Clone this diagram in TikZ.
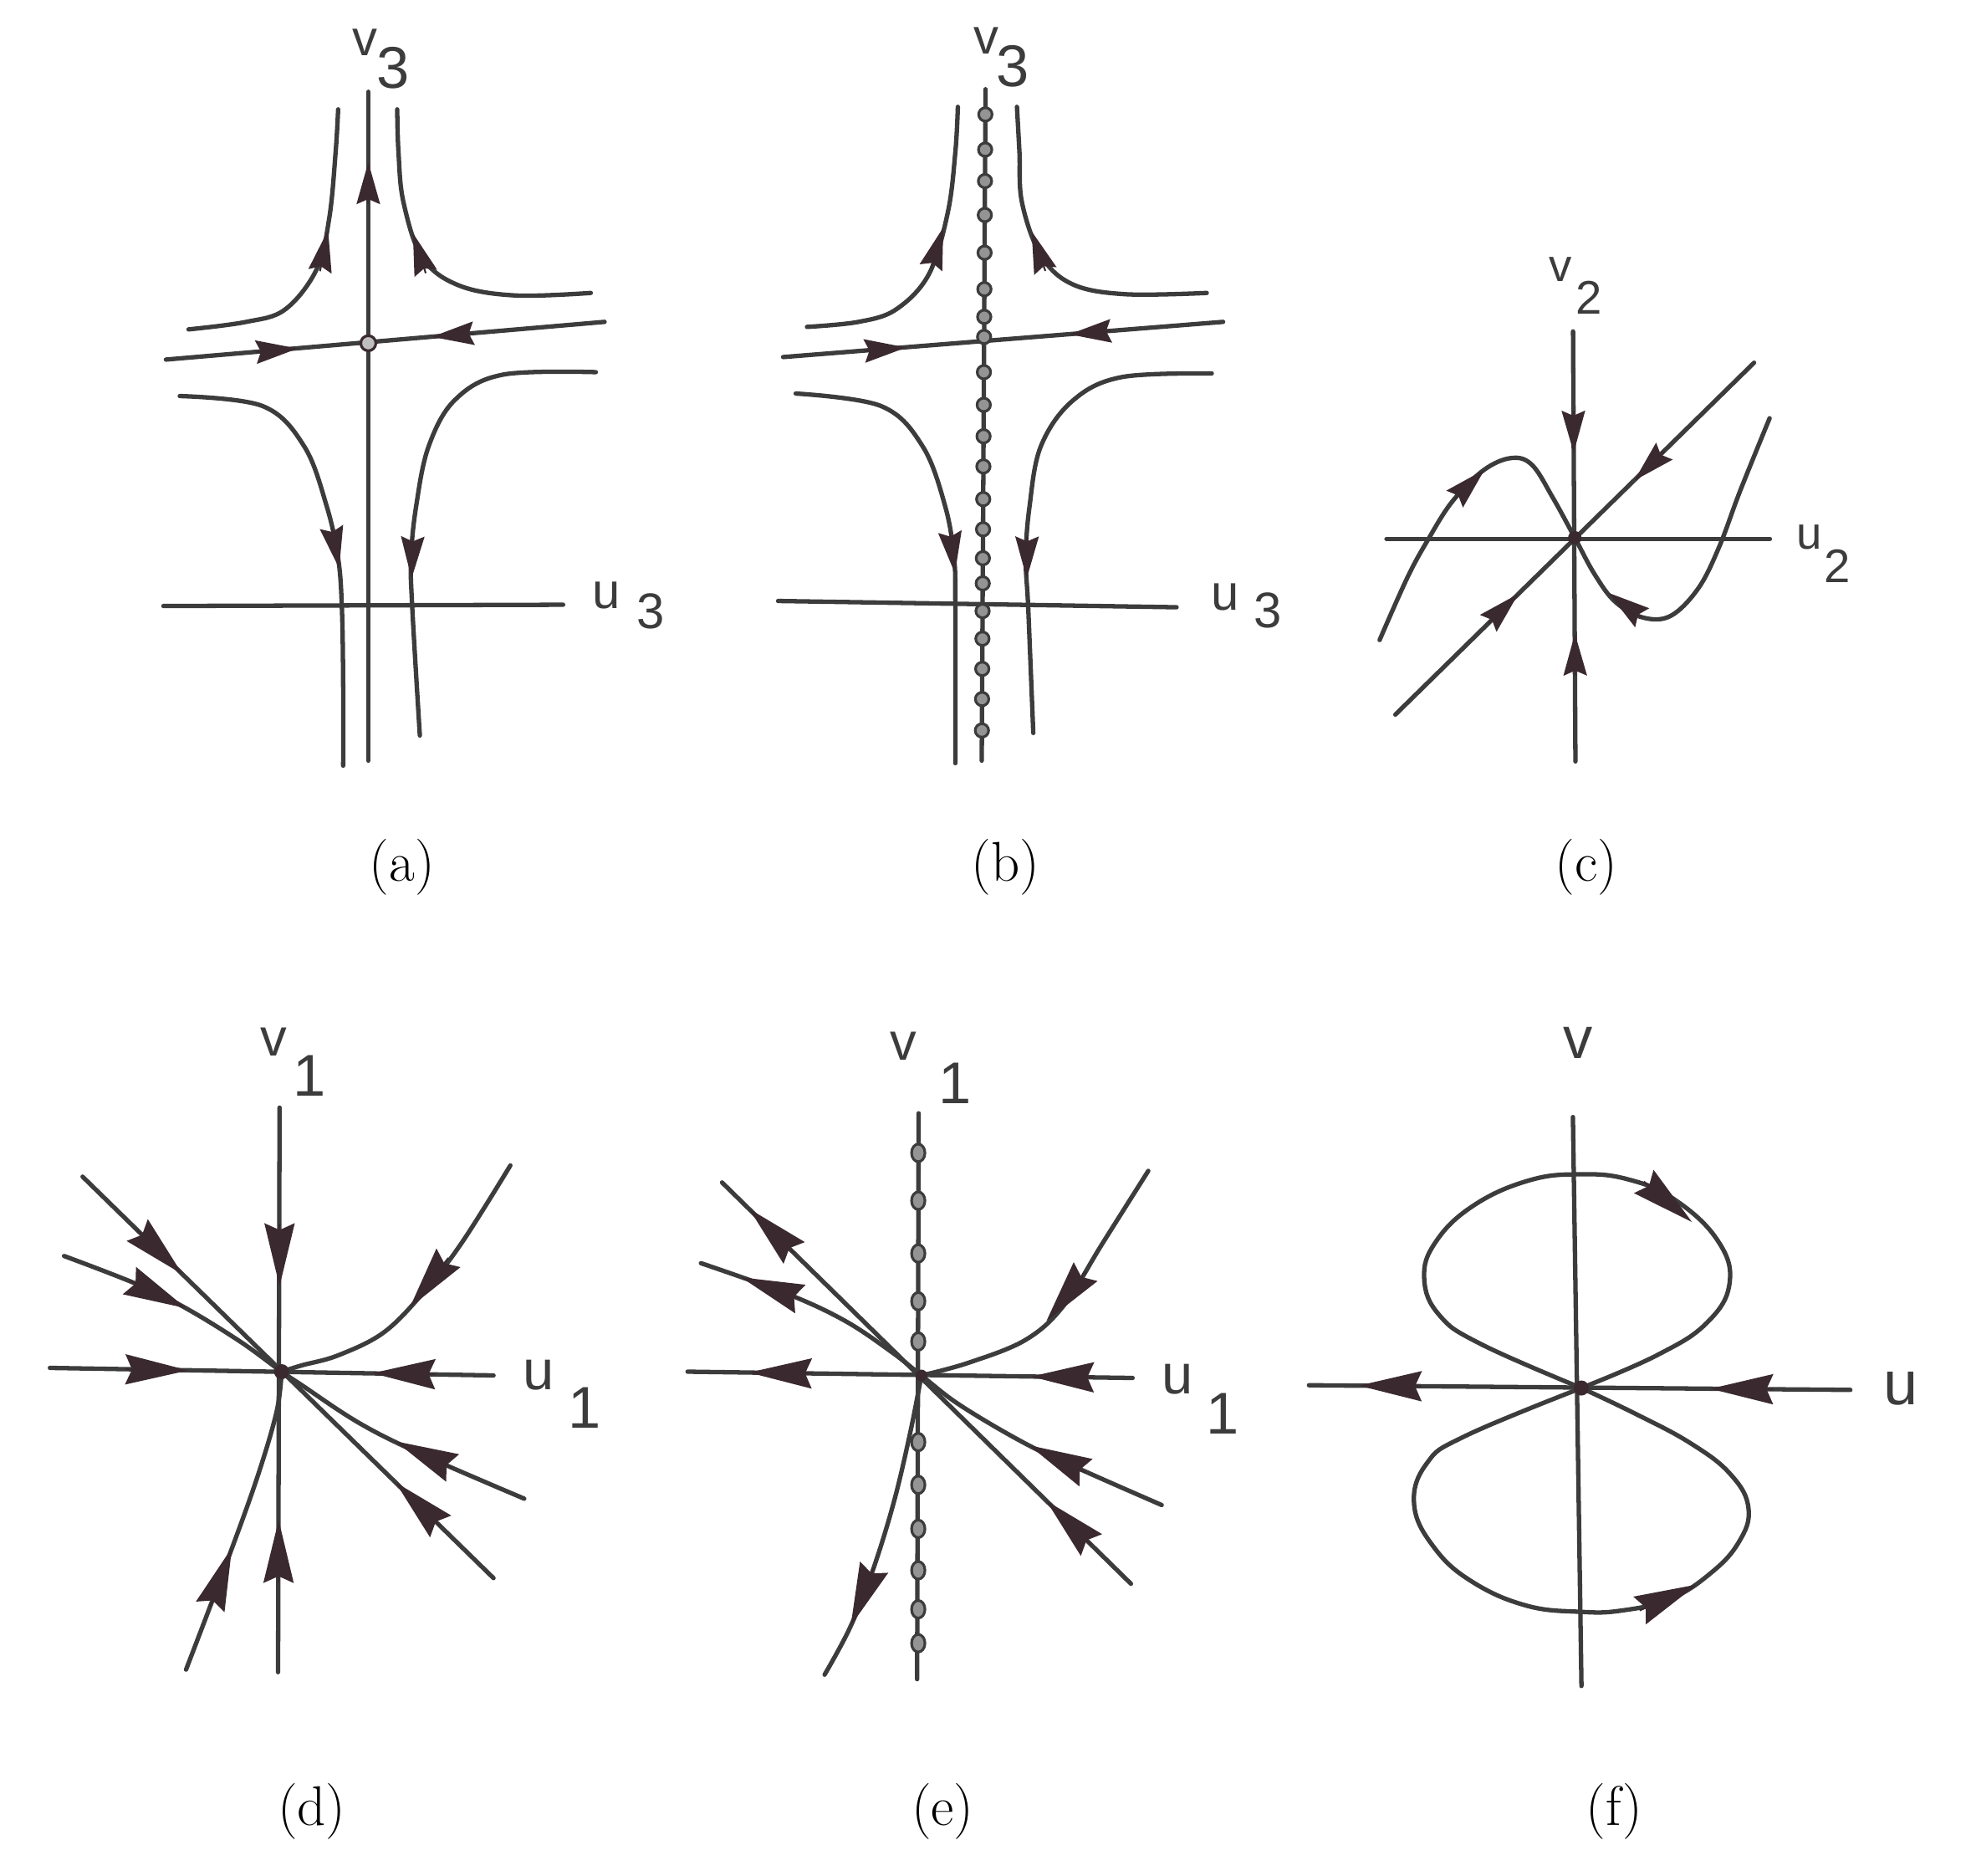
\documentclass[tikz,border=0pt]{standalone}
\usepackage{fontspec}
\newfontfamily\labfont{Liberation Sans}
\usetikzlibrary{arrows.meta,calc}
\definecolor{ink}{HTML}{3C3C3C}
\definecolor{tipink}{HTML}{3A2A2F}
% arrowhead sitting on a trajectory: {point behind}{tip}
\newcommand{\smalltip}[2]{\draw[flow] ($(#2)!0.5cm!(#1)$) -- (#2);}
\newcommand{\bigtip}[2]{\draw[bigflow] ($(#2)!0.75cm!(#1)$) -- (#2);}

\begin{document}
\begin{tikzpicture}[x=0.015cm, y=-0.015cm,
  axis/.style={draw=ink, line width=1.5pt, line cap=round},
  orbit/.style={draw=ink, line width=1.5pt, line cap=round},
  flow/.style={draw=tipink, line width=0.6pt,
    -{Stealth[length=0.5cm, width=0.28cm, inset=0.06cm]}},
  bigflow/.style={draw=tipink, line width=0.6pt,
    -{Stealth[length=0.75cm, width=0.36cm, inset=0.08cm]}},
  lab/.style={inner sep=0pt, anchor=base west, text=ink},
  sz/.style={font=\labfont\fontsize{#1}{#1}\selectfont},
  captext/.style={inner sep=0pt, font=\fontsize{19}{22}\selectfont},
  chain/.style={draw=ink, fill=ink!55, line width=0.9pt}
]
\useasboundingbox (0,0) rectangle (1568,1492);

% (a) saddle
\draw[axis] (130,482) -- (448,481);
\draw[axis] (293,73) -- (293,605);
\draw[orbit] (132,286) -- (481,256);
\draw[orbit] plot[smooth, tension=0.6] coordinates {(150,262) (196,256) (227,246) (252,214) (262,173) (267,121) (269,87)};
\draw[orbit] plot[smooth, tension=0.6] coordinates {(316,87) (317,121) (321,161) (336,205) (365,227) (410,235) (470,233)};
\draw[orbit] plot[smooth, tension=0.6] coordinates {(143,315) (209,323) (242,355) (260,403) (269,444) (272,484) (273,545) (273,609)};
\draw[orbit] plot[smooth, tension=0.6] coordinates {(474,296) (400,298) (362,318) (341,355) (331,403) (327,444) (328,484) (334,585)};
\smalltip{293,160}{293,129}
\smalltip{208.8,279.6}{236.8,277.2}
\smalltip{371.6,265.5}{343.7,267.9}
\smalltip{255.5,211}{261,183}
\smalltip{337,212}{328.5,185.5}
\smalltip{264.6,424}{269.8,452}
\smalltip{328.2,432}{327.4,460}
\draw[fill=gray!50, draw=tipink, line width=0.9pt] (293,273) circle[radius=0.09cm];
\node[lab, sz=17] (a-v) at (280,44) {v};
\node[lab, sz=20] (a-vn) at (299.5,70) {3};
\node[lab, sz=17] (a-u) at (471,484) {u};
\node[lab, sz=17] (a-un) at (506,500) {3};
\node[captext] (a-cap) at (320,690) {(a)};

% (b) line of equilibria
\draw[axis] (619,478) -- (936,483);
\draw[axis] (784,71) -- (781,605);
\draw[orbit] (623,284) -- (973,256);
\draw[orbit] plot[smooth, tension=0.6] coordinates {(642,260) (683,256) (713,246) (739,218) (754,169) (760,121) (762,85)};
\draw[orbit] plot[smooth, tension=0.6] coordinates {(809,85) (811,121) (813,161) (828,203) (853,226) (895,234) (960,233)};
\draw[orbit] plot[smooth, tension=0.6] coordinates {(633,313) (701,323) (734,355) (752,403) (759,444) (760,484) (760,607)};
\draw[orbit] plot[smooth, tension=0.6] coordinates {(964,297) (892,300) (853,319) (828,355) (819,403) (816,444) (818,484) (822,583)};
\foreach \yy in {91,119,144,171,201,230,252,268,296,322,347,371,397,421,444,464,486,508,532,556,581}
  \draw[chain] ({784-3*(\yy-71)/534},\yy) circle[radius=0.08cm];
\smalltip{692.9,278.7}{720.9,276.4}
\smalltip{878.7,263.6}{850.7,265.9}
\smalltip{742.4,207}{750.4,181}
\smalltip{829,208}{820.7,184}
\smalltip{756.3,428}{759.7,456}
\smalltip{817,432}{816.8,460}
\node[lab, sz=17] (b-v) at (774,43) {v};
\node[lab, sz=20] (b-vn) at (792.5,69) {3};
\node[lab, sz=17] (b-u) at (963,485) {u};
\node[lab, sz=17] (b-un) at (997,499) {3};
\node[captext] (b-cap) at (800,690) {(b)};

% (c)
\draw[axis] (1103,428.6) -- (1408,428.6);
\draw[axis] (1251.4,263.6) -- (1253.3,605.6);
\draw[orbit] (1110,568.4) -- (1395.4,288.5);
\draw[orbit] plot[smooth, tension=0.6] coordinates {(1097.5,509.1) (1119.6,459.4) (1136.1,429.1) (1155.4,398.8) (1180.2,374) (1202.3,364.3) (1218.8,369.8) (1235.4,396) (1252.8,427.7) (1268.5,456.7) (1285.1,478.8) (1307.1,491.2) (1329.2,489.8) (1351.2,467.7) (1367.8,434.6) (1384.3,390.5) (1407.8,332.6)};
\smalltip{1251.7,331}{1251.9,360}
\smalltip{1253.1,533}{1252.9,504}
\smalltip{1320.9,361.9}{1300.2,382.2}
\smalltip{1187.1,492.7}{1207.8,472.4}
\smalltip{1160,394.2}{1181,373.5}
\smalltip{1303.6,489.3}{1279.5,471.5}
\fill[tipink] (1252.8,427.7) circle[radius=0.08cm];
\node[lab, sz=15.5] (c-v) at (1232,224) {v};
\node[lab, sz=16] (c-vn) at (1253.5,250) {2};
\node[lab, sz=15.5] (c-u) at (1428.5,437) {u};
\node[lab, sz=16] (c-un) at (1451,463.5) {2};
\node[captext] (c-cap) at (1262,690) {(c)};

% (d) stable node
\draw[axis] (39.7,1088) -- (392.6,1094);
\draw[axis] (222.4,881) -- (221.2,1330);
\draw[orbit] (65.7,935.9) -- (392.6,1255.2);
\draw[orbit] plot[smooth, tension=0.6] coordinates {(51,999) (108,1021) (147,1040) (191,1067) (224,1091) (239,1101) (286,1132) (336,1157) (417,1192)};
\draw[orbit] plot[smooth, tension=0.6] coordinates {(406,927) (367,989) (336,1029) (305,1060) (269,1078) (240,1086) (224,1091)};
\draw[orbit] plot[smooth, tension=0.6] coordinates {(148,1328) (178,1249) (204,1177) (220,1123) (224,1091)};
\bigtip{222.4,981}{222.4,1023}
\bigtip{221.6,1251}{221.7,1209}
\bigtip{108,1089.3}{149.7,1090}
\bigtip{338,1092.9}{296.3,1092.2}
\bigtip{115,984.1}{145,1013.4}
\bigtip{344.7,1208.4}{314.7,1179.1}
\bigtip{110,1022}{148,1040.5}
\bigtip{353,1164.3}{314.7,1146.4}
\bigtip{354,1004}{326,1040}
\bigtip{170,1270.5}{184.5,1231}
\fill[tipink] (224,1091) circle[radius=0.09cm];
\node[lab, sz=18] (d-v) at (207,840) {v};
\node[lab, sz=20] (d-vn) at (233,872) {1};
\node[lab, sz=19] (d-u) at (415.5,1105) {u};
\node[lab, sz=20] (d-un) at (451.5,1136) {1};
\node[captext] (d-cap) at (248,1441) {(d)};

% (e)
\draw[axis] (547,1091) -- (901,1096);
\draw[axis] (730.8,885.5) -- (729.6,1335.6);
\draw[orbit] (574.4,940.5) -- (899.7,1259.7);
\draw[orbit] plot[smooth, tension=0.6] coordinates {(557.6,1004.7) (626.3,1029.1) (672.1,1050.5) (708.8,1075) (733,1094) (763.8,1117.7) (815.7,1148.2) (861.6,1169.6) (924.2,1197.1)};
\draw[orbit] plot[smooth, tension=0.6] coordinates {(913.5,931.3) (876.8,989.4) (846.3,1038.3) (815.7,1065.8) (769.9,1084.1) (733,1094)};
\draw[orbit] plot[smooth, tension=0.6] coordinates {(733,1094) (724,1140) (711,1195) (694,1250) (676,1295) (656,1332)};
\foreach \yy in {917,955,997,1035,1067,1147,1181,1216,1249,1280,1307}
  \draw[chain] (730.5,\yy) ellipse[x radius=0.08cm, y radius=0.105cm];
\bigtip{626,990.9}{596,961.5}
\bigtip{862.5,1223.2}{832.5,1193.8}
\bigtip{629,1030.4}{589.7,1016}
\bigtip{857,1168}{818.8,1149.6}
\bigtip{860,1016}{832.5,1050.7}
\bigtip{692.8,1253}{676.8,1293}
\bigtip{637.8,1092.3}{595.8,1091.7}
\bigtip{862,1095.4}{820.3,1094.9}
\fill[tipink] (733,1094) circle[radius=0.07cm];
\node[lab, sz=18] (e-v) at (708,843) {v};
\node[lab, sz=20] (e-vn) at (746.5,878) {1};
\node[lab, sz=19] (e-u) at (924,1108.5) {u};
\node[lab, sz=20] (e-un) at (959,1140.5) {1};
\node[captext] (e-cap) at (750,1441) {(e)};

% (f) figure eight
\draw[axis] (1041.3,1101.8) -- (1472,1105.5);
\draw[axis] (1251.3,888.5) -- (1258.1,1341);
\draw[orbit] plot[smooth, tension=0.7] coordinates {(1258,1104) (1318,1078) (1358,1052) (1376,1020) (1366,986) (1332,954) (1295,938) (1257,934) (1216,939) (1172,959) (1142,988) (1133,1017) (1145,1046) (1178,1069) (1258,1104)};
\draw[orbit] plot[smooth, tension=0.7] coordinates {(1258,1104) (1300,1124) (1345,1148) (1377,1173) (1391,1200) (1383,1227) (1360,1252) (1328,1272) (1290,1281) (1257,1282) (1214,1277) (1171,1258) (1141,1231) (1125,1197) (1135,1164) (1166,1142) (1258,1104)};
\bigtip{1315,945.9}{1346,972}
\bigtip{1312,1277.5}{1350,1260.3}
\bigtip{1123,1102.5}{1081,1102.1}
\bigtip{1402,1104.9}{1360.6,1104.6}
\fill[tipink] (1258,1104) circle[radius=0.09cm];
\node[lab, sz=20] (f-v) at (1243,842) {v};
\node[lab, sz=21] (f-u) at (1498,1117) {u};
\node[captext] (f-cap) at (1284,1441) {(f)};
\end{tikzpicture}
\end{document}
